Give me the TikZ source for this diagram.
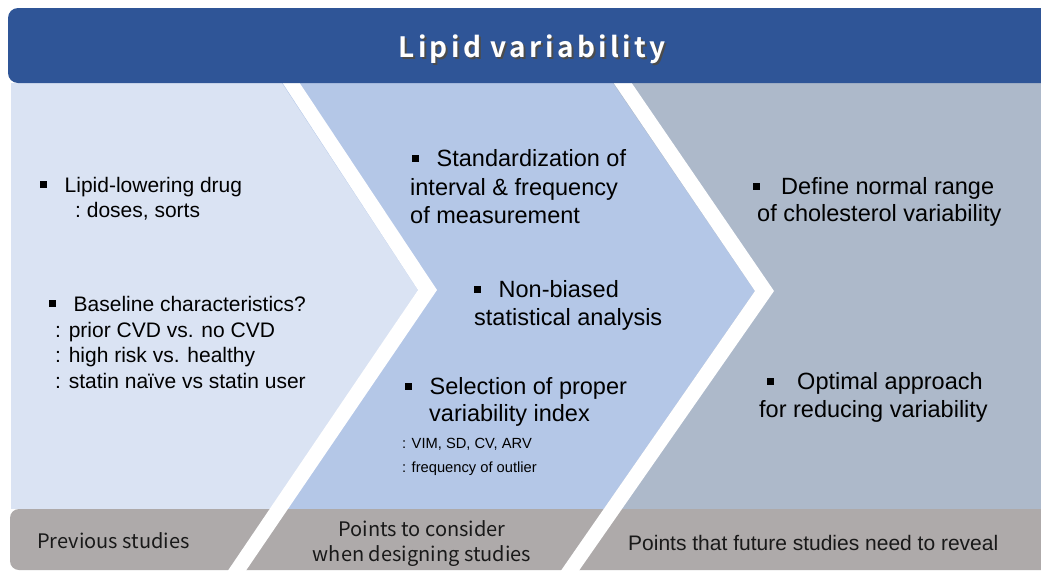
\documentclass[tikz,border=0pt]{standalone}
\usepackage{fontspec}
\setmainfont{Liberation Sans}
\newfontfamily\krfont{Noto Sans CJK KR}
\newfontfamily\krbold[LetterSpace=12]{Noto Sans CJK KR Bold}
\definecolor{banner}{HTML}{2F5597}
\definecolor{pA}{HTML}{DAE3F3}
\definecolor{pB}{HTML}{B4C7E7}
\definecolor{pC}{HTML}{ADB9CA}
\definecolor{greybar}{HTML}{AEAAAA}
\newcommand{\bul}[1][18pt]{\rule[4.5pt]{6.5pt}{6.5pt}\hspace{#1}}
\tikzset{
  txt/.style={anchor=base west, inner sep=0pt, font=\fontsize{21}{25}\selectfont, text=black},
  big/.style={anchor=base west, inner sep=0pt, font=\fontsize{23.5}{28}\selectfont, text=black},
  small/.style={anchor=base west, inner sep=0pt, font=\fontsize{14.7}{18}\selectfont, text=black},
  foot/.style={anchor=base, inner sep=0pt, font=\krfont\fontsize{20}{24}\selectfont, text=black!90},
}
\begin{document}
\begin{tikzpicture}[x=1pt,y=-1pt]
\clip (0,0) rectangle (1041,571);
\fill[white] (0,0) rectangle (1041,571);
% panels
\fill[pA] (11,83) rectangle (1041,509);
\fill[pB] (282,83) -- (1041,83) -- (1041,509) -- (272,509) -- (418,290) -- cycle;
\fill[pC] (613,83) -- (1041,83) -- (1041,509) -- (604,509) -- (755,291) -- cycle;
% bottom bar
\fill[greybar, rounded corners=9pt] (10,509) rectangle (1060,570);
% white chevron stripes
\fill[white] (282,82) -- (299,82) -- (437,290) -- (245,572) -- (227,572) -- (418,290) -- cycle;
\fill[white] (613,82) -- (631,82) -- (774,291) -- (578,572) -- (560,572) -- (755,291) -- cycle;
% banner
\fill[banner, rounded corners=10pt] (8,8) rectangle (1060,83);
\node[anchor=base, inner sep=0pt, font=\krbold\fontsize{28}{30}\selectfont, text=black!70] at (534,59) {Lipid variability};
\node (title) [anchor=base, inner sep=0pt, font=\krbold\fontsize{28}{30}\selectfont, text=white] at (532,57) {Lipid variability};
% left panel
\node (l1) [txt] at (40,192) {\bul Lipid-lowering drug};
\node (l2) [txt] at (75,217) {:\ doses, sorts};
\node (l3) [txt] at (49,311) {\bul Baseline characteristics?};
\node (l4) [txt] at (55,337) {: prior CVD vs. no CVD};
\node (l5) [txt] at (55,362) {: high risk vs. healthy};
\node (l6) [txt] at (55,388) {: statin naïve vs statin user};
% middle panel
\node (m1) [big] at (412,166) {\bul Standardization of};
\node (m2) [big] at (410,195) {interval \& frequency};
\node (m3) [big] at (410,223) {of measurement};
\node (m4) [big] at (474,297) {\bul Non-biased};
\node (m5) [big] at (474,325) {statistical analysis};
\node (m6) [big] at (405,394) {\bul Selection of proper};
\node (m7) [big] at (429,421) {variability index};
\node (m8) [small] at (402,448) {: VIM, SD, CV, ARV};
\node (m9) [small] at (402,472) {: frequency of outlier};
% right panel
\node (r1) [big] at (753,194) {\bul[15pt] Define normal range};
\node (r2) [big] at (757,221) {of cholesterol variability};
\node (r3) [big] at (767,389) {\bul[17pt] Optimal approach};
\node (r4) [big] at (759,417) {for reducing variability};
% bottom labels
\node (b1) [foot, anchor=base west] at (37,548) {Previous studies};
\node (b2) [foot] at (422,536) {Points to consider};
\node (b3) [foot] at (422,561) {when designing studies};
\node (b4) [txt, text=black!90] at (628,550) {Points that future studies need to reveal};
\end{tikzpicture}
\end{document}
